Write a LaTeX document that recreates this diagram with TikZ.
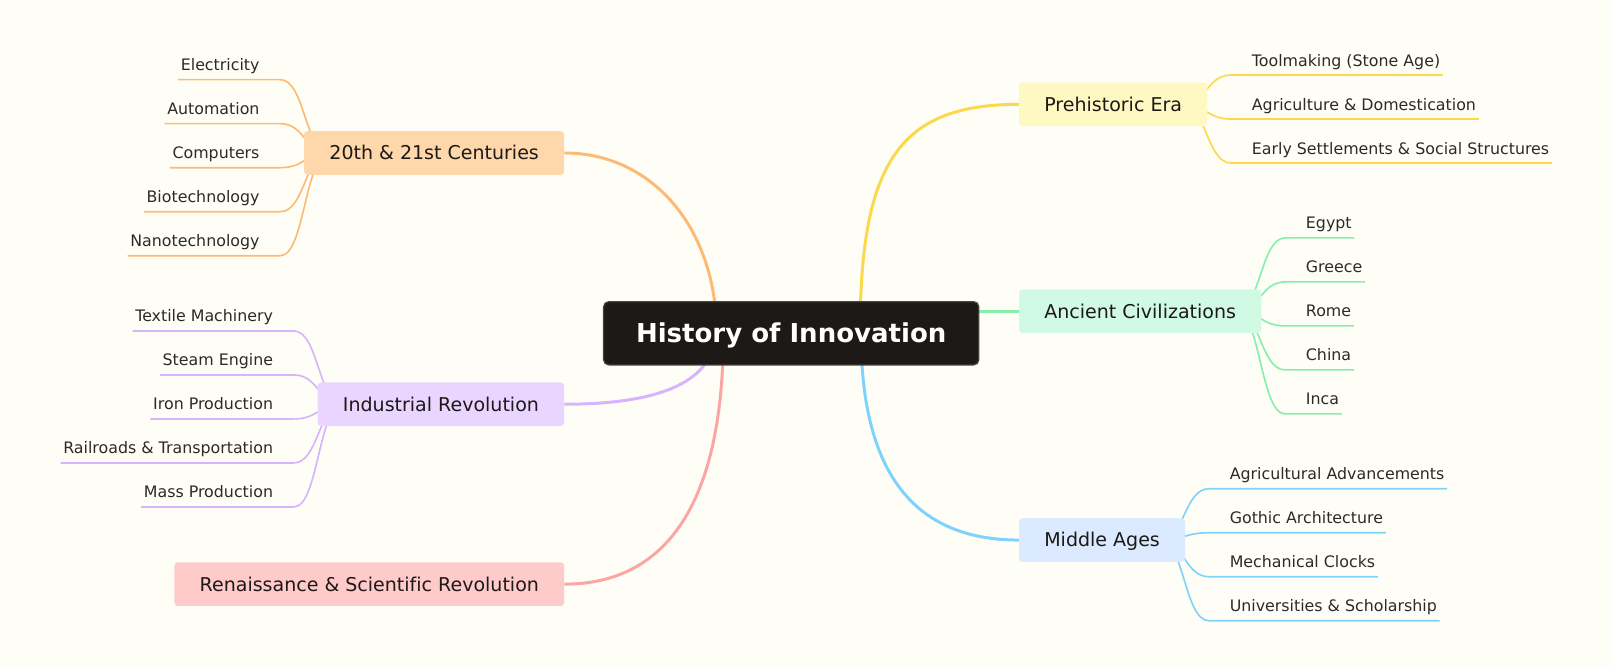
\documentclass[tikz,border=0pt]{standalone}
\usepackage{fontspec}
\setmainfont{DejaVu Sans}[Ligatures=NoCommon]
\usetikzlibrary{calc}
\pgfdeclarelayer{bg}
\pgfdeclarelayer{lines}
\pgfsetlayers{bg,lines,main}
\definecolor{bgc}{HTML}{FFFEF6}
\definecolor{rootfill}{HTML}{1C1917}
\definecolor{rootdraw}{HTML}{46423D}
\definecolor{maintext}{HTML}{1C1917}
\definecolor{leaftext}{HTML}{2D2A26}
\definecolor{yfill}{HTML}{FEF9C3}
\definecolor{gfill}{HTML}{D1FAE5}
\definecolor{bfill}{HTML}{DBEAFE}
\definecolor{ofill}{HTML}{FED7AA}
\definecolor{pfill}{HTML}{E9D5FF}
\definecolor{rfill}{HTML}{FECACA}
\definecolor{yline}{HTML}{FCD94A}
\definecolor{gline}{HTML}{86EFAC}
\definecolor{bline}{HTML}{7DD3FC}
\definecolor{oline}{HTML}{FDBA74}
\definecolor{pline}{HTML}{D8B4FE}
\definecolor{rline}{HTML}{FCA5A5}
\newcommand\leafR[5]{%
  \node[leaf, anchor=base west] (#2) at ($(#1.east)+(40.5,#3)$) {#5};
  \begin{pgfonlayer}{lines}
    \draw[leafline, #4] ($(#1.east)+(-25,0)$) .. controls ($(#1.east)+(-1,0)$) and ($(#1.east)+(-1,#3+8.7)$) .. ($(#1.east)+(23,#3+8.7)$) -- ($(#2.base east)+(0,8.7)$);
  \end{pgfonlayer}}
\newcommand\leafL[5]{%
  \node[leaf, anchor=base east] (#2) at ($(#1.west)+(-40.5,#3)$) {#5};
  \begin{pgfonlayer}{lines}
    \draw[leafline, #4] ($(#1.west)+(25,0)$) .. controls ($(#1.west)+(1,0)$) and ($(#1.west)+(1,#3+8.7)$) .. ($(#1.west)+(-23,#3+8.7)$) -- ($(#2.base west)+(0,8.7)$);
  \end{pgfonlayer}}
\begin{document}
\begin{tikzpicture}[x=1pt,y=-1pt,
  rootnode/.style={fill=rootfill, draw=rootdraw, line width=1.2pt, rounded corners=5pt,
    minimum width=365pt, minimum height=61.5pt, inner sep=0pt, text=white,
    font=\fontsize{25.3}{30}\selectfont\bfseries, text height=18.4pt, text depth=0pt},
  mainnode/.style={rounded corners=3.5pt, inner xsep=24.6pt, inner ysep=0pt,
    minimum height=42.5pt, text=maintext, font=\fontsize{18.5}{22}\selectfont,
    text height=13.5pt, text depth=0pt},
  leaf/.style={inner xsep=2.5pt, inner ysep=0pt, text=leaftext, font=\fontsize{15.4}{18}\selectfont},
  leafline/.style={line width=1.6pt},
  mainline/.style={line width=2.9pt}]
\begin{pgfonlayer}{bg}
  \fill[bgc] (0,0) rectangle (1568,647.8);
\end{pgfonlayer}
\useasboundingbox (0,0) rectangle (1568,647.8);

% root
\node[rootnode] (root) at (769.6,324.2) {History of Innovation};

% main topics
\node[mainnode, fill=yfill, anchor=west] (pre) at (991,101.5) {Prehistoric Era};
\node[mainnode, fill=gfill, anchor=west] (anc) at (991,302.7) {Ancient Civilizations};
\node[mainnode, fill=bfill, anchor=west] (mid) at (991,525.3) {Middle Ages};
\node[mainnode, fill=ofill, anchor=east] (cen) at (549,148.8) {20th \& 21st Centuries};
\node[mainnode, fill=pfill, anchor=east] (ind) at (549,393.2) {Industrial Revolution};
\node[mainnode, fill=rfill, anchor=east] (ren) at (549,568.2) {Renaissance \& Scientific Revolution};

% main connectors
\coordinate (sY) at (836.6,324.2);
\coordinate (sG) at (930,302.7);
\coordinate (sB) at (837.5,324.2);
\coordinate (sO) at (697.1,324.2);
\coordinate (sP) at (695,324.2);
\coordinate (sR) at (703.6,324.2);
\begin{pgfonlayer}{lines}
  \draw[mainline, yline] (sY) .. controls (836.6,157.2) and (875.2,101.5) .. (pre.west);
  \draw[mainline, gline] (sG) -- (anc.west);
  \draw[mainline, bline] (sB) .. controls (837.5,459.0) and (888.2,525.3) .. (mid.west);
  \draw[mainline, oline] (sO) .. controls (697.1,222.5) and (634.9,148.8) .. (cen.east);
  \draw[mainline, pline] (sP) .. controls (695,369.5) and (645.4,393.2) .. (ind.east);
  \draw[mainline, rline] (sR) .. controls (703.6,485.2) and (651.0,568.2) .. (ren.east);
\end{pgfonlayer}

% Prehistoric Era
\leafR{pre}{pre1}{-37.2}{yline}{Toolmaking (Stone Age)}
\leafR{pre}{pre2}{5.6}{yline}{Agriculture \& Domestication}
\leafR{pre}{pre3}{48.4}{yline}{Early Settlements \& Social Structures}

% Ancient Civilizations
\leafR{anc}{anc1}{-80}{gline}{Egypt}
\leafR{anc}{anc2}{-37.2}{gline}{Greece}
\leafR{anc}{anc3}{5.6}{gline}{Rome}
\leafR{anc}{anc4}{48.4}{gline}{China}
\leafR{anc}{anc5}{91.2}{gline}{Inca}

% Middle Ages
\leafR{mid}{mid1}{-58.6}{bline}{Agricultural Advancements}
\leafR{mid}{mid2}{-15.8}{bline}{Gothic Architecture}
\leafR{mid}{mid3}{27.0}{bline}{Mechanical Clocks}
\leafR{mid}{mid4}{69.8}{bline}{Universities \& Scholarship}

% 20th & 21st Centuries
\leafL{cen}{cen1}{-80}{oline}{Electricity}
\leafL{cen}{cen2}{-37.2}{oline}{Automation}
\leafL{cen}{cen3}{5.6}{oline}{Computers}
\leafL{cen}{cen4}{48.4}{oline}{Biotechnology}
\leafL{cen}{cen5}{91.2}{oline}{Nanotechnology}

% Industrial Revolution
\leafL{ind}{ind1}{-80}{pline}{Textile Machinery}
\leafL{ind}{ind2}{-37.2}{pline}{Steam Engine}
\leafL{ind}{ind3}{5.6}{pline}{Iron Production}
\leafL{ind}{ind4}{48.4}{pline}{Railroads \& Transportation}
\leafL{ind}{ind5}{91.2}{pline}{Mass Production}
\end{tikzpicture}
\end{document}
